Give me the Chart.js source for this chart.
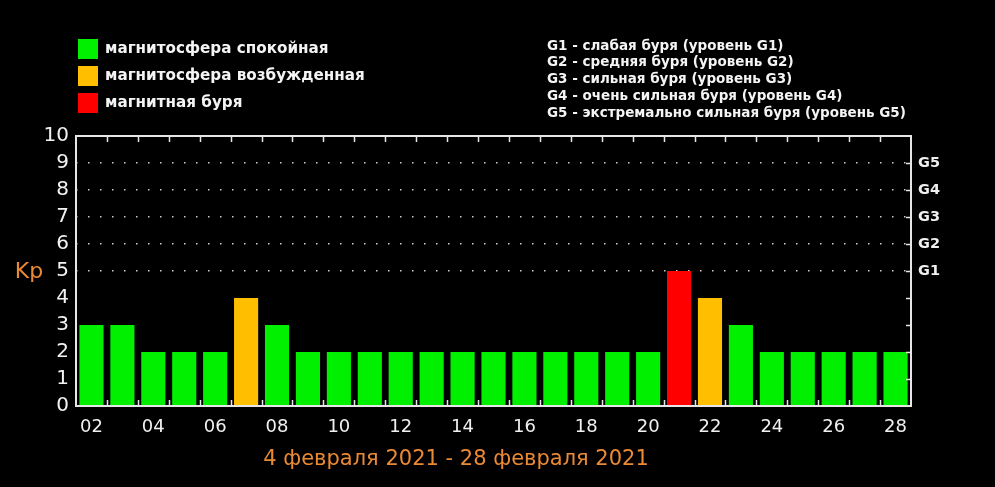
<!DOCTYPE html>
<html>
<head>
<meta charset="utf-8">
<script src="https://cdn.jsdelivr.net/npm/chart.js@4.4.1/dist/chart.umd.min.js"></script>
<style>
  body { margin: 0; background: #000; }
  #wrap { width: 995px; height: 487px; position: relative; }
</style>
</head>
<body>
<div id="wrap"><canvas id="kp"></canvas></div>
<script>
// days of the month shown on the x axis
const days = ['02', '03', '04', '05', '06', '07', '08', '09', '10', '11', '12', '13', '14', '15',
  '16', '17', '18', '19', '20', '21', '22', '23', '24', '25', '26', '27', '28'];
// Kp index per day
const kpValues = [3, 3, 2, 2, 2, 4, 3, 2, 2, 2, 2, 2, 2, 2, 2, 2, 2, 2, 2, 5, 4, 3, 2, 2, 2, 2, 2];
// storm levels for Kp 5..9 (right axis)
const stormLevels = ['G1', 'G2', 'G3', 'G4', 'G5'];
const stateLegend = ['магнитосфера спокойная', 'магнитосфера возбужденная', 'магнитная буря'];
const stormLegend = [
  'G1 - слабая буря (уровень G1)',
  'G2 - средняя буря (уровень G2)',
  'G3 - сильная буря (уровень G3)',
  'G4 - очень сильная буря (уровень G4)',
  'G5 - экстремально сильная буря (уровень G5)'
];
const periodTitle = '4 февраля 2021 - 28 февраля 2021';

const GREEN = '#00f000';
const ORANGE = '#ffbf00';
const RED = '#ff0000';
const ACCENT = '#ea8a35';
const FONT = '"DejaVu Sans", sans-serif';

function kpColor(v) {
  if (v >= 5) return RED;
  if (v === 4) return ORANGE;
  return GREEN;
}

// frame, inward tick marks, legends and captions
const decor = {
  id: 'decor',
  afterDraw(chart) {
    const ctx = chart.ctx;
    const area = chart.chartArea;
    const x = chart.scales.x;
    const y = chart.scales.y;
    ctx.save();

    ctx.strokeStyle = '#e6e6e6';
    ctx.lineWidth = 2;
    ctx.strokeRect(area.left, area.top, area.right - area.left, area.bottom - area.top);

    // tick marks between days, top and bottom
    ctx.lineWidth = 1.5;
    for (let i = 1; i < days.length; i++) {
      const bx = Math.round((x.getPixelForValue(i - 1) + x.getPixelForValue(i)) / 2) + 0.5;
      ctx.beginPath();
      ctx.moveTo(bx, area.bottom);
      ctx.lineTo(bx, area.bottom - 6);
      ctx.moveTo(bx, area.top);
      ctx.lineTo(bx, area.top + 6);
      ctx.stroke();
    }
    // right side ticks
    for (let v = 1; v <= 9; v++) {
      const py = Math.round(y.getPixelForValue(v)) + 0.5;
      ctx.beginPath();
      ctx.moveTo(area.right - 5, py);
      ctx.lineTo(area.right, py);
      ctx.stroke();
    }

    // Kp caption
    ctx.fillStyle = ACCENT;
    ctx.font = '22px ' + FONT;
    ctx.textAlign = 'center';
    ctx.textBaseline = 'middle';
    ctx.fillText('Kp', 29, y.getPixelForValue(5) + 1);

    // period caption
    ctx.font = '21px ' + FONT;
    ctx.fillText(periodTitle, 456, 460);

    // state legend
    const swatches = [GREEN, ORANGE, RED];
    ctx.textAlign = 'left';
    ctx.font = 'bold 15.2px ' + FONT;
    stateLegend.forEach((t, i) => {
      const ty = 39 + i * 27;
      ctx.fillStyle = swatches[i];
      ctx.fillRect(78, ty, 20, 20);
      ctx.fillStyle = '#f4f4f4';
      ctx.fillText(t, 105, ty + 10);
    });

    // storm level legend
    ctx.font = 'bold 13.5px ' + FONT;
    stormLegend.forEach((t, i) => {
      ctx.fillText(t, 547, 46 + i * 16.8);
    });
    ctx.restore();
  }
};

new Chart(document.getElementById('kp'), {
  type: 'bar',
  data: {
    labels: days,
    datasets: [{
      data: kpValues,
      backgroundColor: kpValues.map(kpColor),
      borderWidth: 0,
      barPercentage: 0.78,
      categoryPercentage: 1
    }]
  },
  options: {
    responsive: true,
    maintainAspectRatio: false,
    animation: false,
    layout: { padding: { top: 136, left: 0, right: 0, bottom: 0 } },
    plugins: { legend: { display: false }, tooltip: { enabled: false } },
    scales: {
      x: {
        grid: { display: false },
        border: { display: false },
        ticks: {
          autoSkip: false,
          maxRotation: 0,
          padding: 3,
          color: '#f0f0f0',
          font: { family: FONT, size: 18 },
          callback: (v, i) => (i % 2 === 0 ? days[i] : '')
        },
        afterFit: s => { s.height = 81; }
      },
      y: {
        min: 0,
        max: 10,
        ticks: {
          stepSize: 1,
          padding: 7,
          color: '#f2f2f2',
          font: { family: FONT, size: 20 }
        },
        grid: {
          drawTicks: false,
          lineWidth: 1.5,
          color: c => (c.tick && c.tick.value >= 5 && c.tick.value <= 9 ? '#cfcfcf' : 'rgba(0,0,0,0)')
        },
        border: { display: false, dash: [1.5, 10.5] },
        afterFit: s => { s.width = 76; }
      },
      y2: {
        position: 'right',
        min: 0,
        max: 10,
        grid: { display: false, drawTicks: false },
        border: { display: false },
        ticks: {
          stepSize: 1,
          padding: 7,
          color: '#f0f0f0',
          font: { family: FONT, size: 14.5, weight: 'bold' },
          callback: v => (v >= 5 && v <= 9 ? stormLevels[v - 5] : '')
        },
        afterFit: s => { s.width = 84; }
      }
    }
  },
  plugins: [decor]
});
</script>
</body>
</html>
